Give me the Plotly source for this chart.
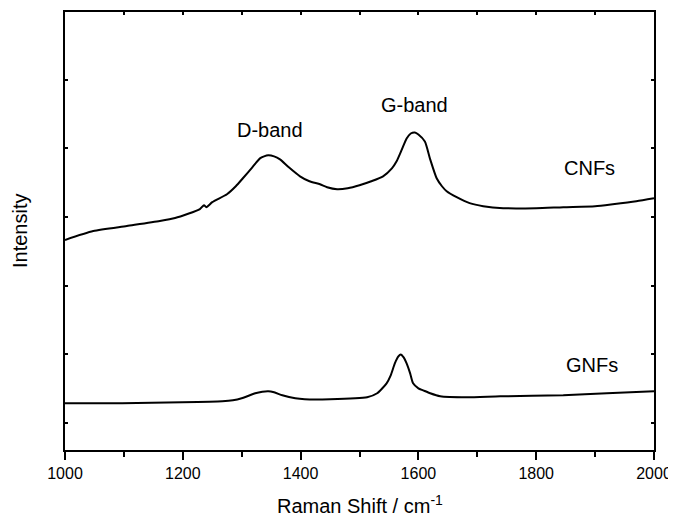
import plotly.graph_objects as go

# Raman shift (cm^-1) and intensity (a.u.)
cnf_x = [1000, 1048, 1105, 1161, 1187, 1229, 1236, 1240, 1250, 1275, 1290, 1302, 1318, 1331, 1338,
         1345, 1355, 1365, 1380, 1399, 1415, 1433, 1445, 1462, 1480, 1500, 1520, 1540, 1555, 1563,
         1572, 1580, 1587, 1594, 1600, 1611, 1620, 1631, 1640, 1648, 1665, 1687, 1710, 1744, 1800,
         1846, 1900, 1930, 1970, 2000]
cnf_y = [2667, 2797, 2870, 2942, 2986, 3116, 3174, 3145, 3217, 3333, 3449, 3565, 3725, 3855, 3884,
         3899, 3884, 3841, 3725, 3594, 3522, 3478, 3435, 3406, 3420, 3464, 3522, 3594, 3710, 3812,
         3986, 4145, 4217, 4232, 4203, 4101, 3841, 3565, 3449, 3377, 3290, 3203, 3159, 3130, 3130,
         3145, 3159, 3188, 3232, 3275]

gnf_x = [1000, 1097, 1199, 1267, 1285, 1300, 1323, 1335, 1345, 1355, 1369, 1391, 1407, 1450, 1513,
         1530, 1546, 1553, 1560, 1566, 1570, 1575, 1580, 1586, 1591, 1600, 1608, 1620, 1637, 1682,
         1739, 1846, 1920, 2000]
gnf_y = [290, 290, 304, 319, 333, 362, 435, 457, 464, 449, 406, 362, 348, 348, 377,
         435, 580, 696, 870, 971, 1000, 957, 870, 725, 580, 507, 478, 435, 391, 377,
         391, 406, 435, 464]

labels = ["D-band", "G-band", "CNFs", "GNFs"]
label_x = [1348, 1594, 1890, 1895]
label_y = [4275, 4638, 3710, 841]

x_ticks = [1000, 1200, 1400, 1600, 1800, 2000]

font = "Liberation Sans, Arial, sans-serif"

fig = go.Figure()
fig.add_trace(go.Scatter(x=cnf_x, y=cnf_y, mode="lines", name="CNFs",
                         line=dict(color="black", width=2, shape="spline", smoothing=0.6)))
fig.add_trace(go.Scatter(x=gnf_x, y=gnf_y, mode="lines", name="GNFs",
                         line=dict(color="black", width=2, shape="spline", smoothing=0.6)))
# invisible trace on top axis so it is drawn
fig.add_trace(go.Scatter(x=[1000, 2000], y=[0, 0], xaxis="x2", mode="lines",
                         line=dict(color="rgba(0,0,0,0)"), hoverinfo="skip", showlegend=False))

for t, x, y in zip(labels, label_x, label_y):
    fig.add_annotation(x=x, y=y, text=t, showarrow=False,
                       font=dict(family=font, size=20, color="black"))

fig.add_annotation(xref="paper", yref="paper", x=-0.0764, y=0.5, text="Intensity",
                   textangle=-90, showarrow=False, xanchor="center", yanchor="middle",
                   font=dict(family=font, size=20, color="black"))
fig.add_annotation(xref="paper", yref="paper", x=0.5, y=-0.125, text="Raman Shift / cm<sup>-1</sup>",
                   showarrow=False, xanchor="center", yanchor="middle",
                   font=dict(family=font, size=20, color="black"))

fig.update_layout(
    width=676, height=518,
    margin=dict(l=57, r=30, t=2, b=76),
    plot_bgcolor="white", paper_bgcolor="white",
    showlegend=False,
    font=dict(family=font, color="black"),
    xaxis=dict(range=[1000, 2000], tickvals=x_ticks, ticktext=[str(v) for v in x_ticks],
               ticks="outside", ticklen=8, tickwidth=2, tickcolor="black",
               minor=dict(dtick=100, ticks="outside", ticklen=5, tickwidth=2, tickcolor="black"),
               showline=True, linewidth=2, linecolor="black", mirror=True,
               showgrid=False, zeroline=False,
               tickfont=dict(family=font, size=16, color="black")),
    xaxis2=dict(range=[1000, 2000], overlaying="x", side="top", matches="x",
                dtick=100, ticks="inside", ticklen=3, tickwidth=1.5, tickcolor="black",
                showticklabels=False, showgrid=False, zeroline=False, showline=False),
    yaxis=dict(range=[-391, 5986], dtick=1000, tick0=0,
               ticks="inside", ticklen=3, tickwidth=2, tickcolor="black",
               showticklabels=False, showline=True, linewidth=2, linecolor="black",
               mirror="ticks", showgrid=False, zeroline=False),
)

fig.write_html("out.html")
